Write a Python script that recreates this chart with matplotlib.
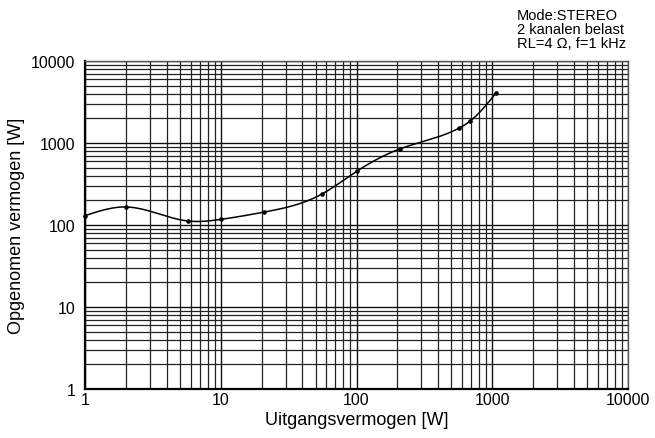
import numpy as np
import matplotlib
matplotlib.use('Agg')
import matplotlib.pyplot as plt
from matplotlib.ticker import LogLocator, FixedLocator, FixedFormatter, NullFormatter


# values (W)
output_power = [1, 2, 5.7, 10, 21, 56, 100, 210, 570, 690, 1070]
input_power = [130, 166, 112, 117, 144, 240, 450, 850, 1520, 1860, 4100]

tick_values = [1, 10, 100, 1000, 10000]
tick_labels = ['1', '10', '100', '1000', '10000']

note_lines = ['Mode:STEREO', '2 kanalen belast', 'RL=4 \u03a9, f=1 kHz']


def smooth_line(x: list, y: list, n: int = 400):

    """
    Natural cubic spline through the points, done in log-log space
    :param x: x values
    :param y: y values
    :param n: number of samples
    :return: sampled x, y
    """

    lx = np.log10(x)
    ly = np.log10(y)
    k = len(lx)
    h = np.diff(lx)

    a = np.zeros((k, k))
    b = np.zeros(k)
    a[0, 0] = 1
    a[-1, -1] = 1
    for i in range(1, k - 1):
        a[i, i - 1] = h[i - 1]
        a[i, i] = 2 * (h[i - 1] + h[i])
        a[i, i + 1] = h[i]
        b[i] = 3 * ((ly[i + 1] - ly[i]) / h[i] - (ly[i] - ly[i - 1]) / h[i - 1])
    c = np.linalg.solve(a, b)

    xs = np.linspace(lx[0], lx[-1], n)
    ys = np.empty_like(xs)
    for j, xv in enumerate(xs):
        i = min(np.searchsorted(lx, xv, side='right') - 1, k - 2)
        d = xv - lx[i]
        bb = (ly[i + 1] - ly[i]) / h[i] - h[i] * (2 * c[i] + c[i + 1]) / 3
        dd = (c[i + 1] - c[i]) / (3 * h[i])
        ys[j] = ly[i] + bb * d + c[i] * d ** 2 + dd * d ** 3

    return 10 ** xs, 10 ** ys


plt.rcParams['font.family'] = ['Liberation Sans', 'DejaVu Sans']

fig = plt.figure(figsize=(6.55, 4.39), dpi=100)
ax = fig.add_axes([85 / 655, 1 - 390 / 439, 543 / 655, 328 / 439])

ax.set_xscale('log')
ax.set_yscale('log')
ax.set_xlim(1, 10000)
ax.set_ylim(1, 10000)

ax.xaxis.set_major_locator(FixedLocator(tick_values))
ax.xaxis.set_major_formatter(FixedFormatter(tick_labels))
ax.yaxis.set_major_locator(FixedLocator(tick_values))
ax.yaxis.set_major_formatter(FixedFormatter(tick_labels))
ax.xaxis.set_minor_locator(LogLocator(base=10, subs=np.arange(2, 10)))
ax.yaxis.set_minor_locator(LogLocator(base=10, subs=np.arange(2, 10)))
ax.xaxis.set_minor_formatter(NullFormatter())
ax.yaxis.set_minor_formatter(NullFormatter())

ax.grid(True, which='major', color='#111111', linewidth=1.0)
ax.grid(True, which='minor', color='#222222', linewidth=0.9)
ax.tick_params(which='both', length=0, labelsize=11.5)
ax.tick_params(axis='x', pad=2)
ax.tick_params(axis='y', pad=7)
ax.set_axisbelow(True)

for side in ['left', 'bottom']:
    ax.spines[side].set_linewidth(1.6)
for side in ['top', 'right']:
    ax.spines[side].set_linewidth(1.0)
    ax.spines[side].set_color('#555555')

sx, sy = smooth_line(output_power, input_power)
ax.plot(sx, sy, color='black', linewidth=1.1, clip_on=False, zorder=3)
ax.plot(output_power, input_power, 'o', color='black', markersize=2.3,
        clip_on=False, zorder=4)

ax.set_xlabel('Uitgangsvermogen [W]', fontsize=13, labelpad=3)
ax.set_ylabel('Opgenomen vermogen [W]', fontsize=13, labelpad=4)

fig.text(517 / 655, 1 - 9 / 439, '\n'.join(note_lines), ha='left', va='top',
         fontsize=10.5, linespacing=1.0)

fig.savefig('out.png', dpi=100)
